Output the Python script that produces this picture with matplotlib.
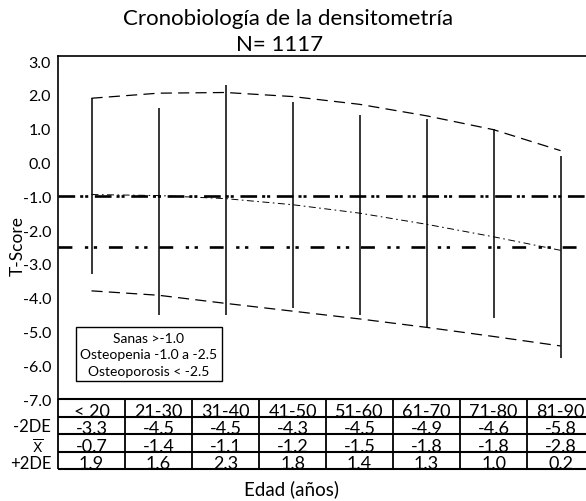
import matplotlib
matplotlib.use("Agg")
import matplotlib.pyplot as plt

plt.rcParams['font.family'] = ['Lato', 'DejaVu Sans']
plt.rcParams['axes.unicode_minus'] = False
plt.rcParams['lines.scale_dashes'] = False
plt.rcParams['mathtext.fontset'] = 'dejavusans'

# data
edades = ['< 20', '21-30', '31-40', '41-50', '51-60', '61-70', '71-80', '81-90']
menos_2de = [-3.3, -4.5, -4.5, -4.3, -4.5, -4.9, -4.6, -5.8]
media = [-0.7, -1.4, -1.1, -1.2, -1.5, -1.8, -1.8, -2.8]
mas_2de = [1.9, 1.6, 2.3, 1.8, 1.4, 1.3, 1.0, 0.2]

# fitted curves drawn in the chart (values read at each age group)
curva_sup = [1.9, 2.05, 2.07, 1.95, 1.72, 1.38, 0.97, 0.35]
curva_inf = [-3.8, -3.93, -4.17, -4.4, -4.63, -4.88, -5.15, -5.43]
curva_media = [-0.95, -0.98, -1.07, -1.25, -1.5, -1.83, -2.2, -2.6]

limite_osteopenia = -1.0
limite_osteoporosis = -2.5

filas = ['-2DE', r'$\overline{\mathsf{X}}$', '+2DE']
tabla = [menos_2de, media, mas_2de]

x = list(range(len(edades)))

fig = plt.figure(figsize=(5.86, 5.02), dpi=100)
ax = fig.add_axes([58/586, 102/502, 528/586, 343/502])

ax.vlines(x, menos_2de, mas_2de, color='black', lw=1.1)
ax.plot(x, curva_sup, color='black', lw=0.9, ls=(0, (8, 4.5)))
ax.plot(x, curva_inf, color='black', lw=0.9, ls=(0, (8, 4.5)))
ax.plot(x, curva_media, color='black', lw=0.7, ls=(0, (5, 2.5, 1.2, 2.5)))
ax.axhline(limite_osteopenia, color='black', lw=1.9,
           ls=(0, (12, 3.6, 2.2, 1.4, 2.2, 4.8)))
ax.axhline(limite_osteoporosis, color='black', lw=1.9,
           ls=(0, (10, 9, 2.4, 4, 2.4, 8.5)))

ax.set_xlim(-0.5, 7.38)
ax.set_ylim(-7.0, 3.15)
ticks = [3, 2, 1, 0, -1, -2, -3, -4, -5, -6, -7]
ax.set_yticks(ticks)
ax.set_yticklabels(['%.1f' % v for v in ticks])
ax.tick_params(axis='y', length=0, pad=5, labelsize=11.5)
ax.set_xticks([])
ax.spines['right'].set_visible(False)
ax.spines['bottom'].set_visible(False)
for s in ['left', 'top']:
    ax.spines[s].set_linewidth(1.2)
ax.set_ylabel('T-Score', fontsize=12.5)
ax.yaxis.set_label_coords(-0.062, 0.45)

ax.text(0.172, 0.131, 'Sanas >-1.0\nOsteopenia -1.0 a -2.5\nOsteoporosis < -2.5',
        transform=ax.transAxes, ha='center', va='center', multialignment='center',
        fontsize=10, linespacing=1.45,
        bbox=dict(boxstyle='square,pad=0.3', fc='white', ec='black', lw=1.0))

# table under the plot
tax = fig.add_axes([58/586, 32/502, 528/586, 70/502])
tax.set_xlim(-0.5, 7.38)
tax.set_ylim(4, 0)
tax.axis('off')
tax.hlines([0, 1, 2, 3, 4], -0.5, 7.5, color='black', lw=1.5, clip_on=False)
tax.vlines([i - 0.5 for i in range(len(edades) + 1)], 0, 4, color='black', lw=1.3,
           clip_on=False)
for i, e in enumerate(edades):
    tax.text(i, 0.95, e, ha='center', va='baseline', fontsize=13)
for r, vals in enumerate(tabla):
    for i, v in enumerate(vals):
        tax.text(i, r + 1.95, '%.1f' % v, ha='center', va='baseline', fontsize=13)
tax.text(-0.6, 1.82, filas[0], ha='right', va='baseline', fontsize=12)
tax.text(-0.8, 3.05, filas[1], ha='center', va='baseline', fontsize=10)
tax.text(-0.6, 3.95, filas[2], ha='right', va='baseline', fontsize=12)

fig.text(0.492, 0.963, 'Cronobiología de la densitometría', ha='center', va='center',
         fontsize=16)
fig.text(0.477, 0.91, 'N= 1117', ha='center', va='center', fontsize=16)
fig.text(0.497, 0.025, 'Edad (años)', ha='center', va='center', fontsize=13.5)

fig.savefig('out.png', dpi=100)
